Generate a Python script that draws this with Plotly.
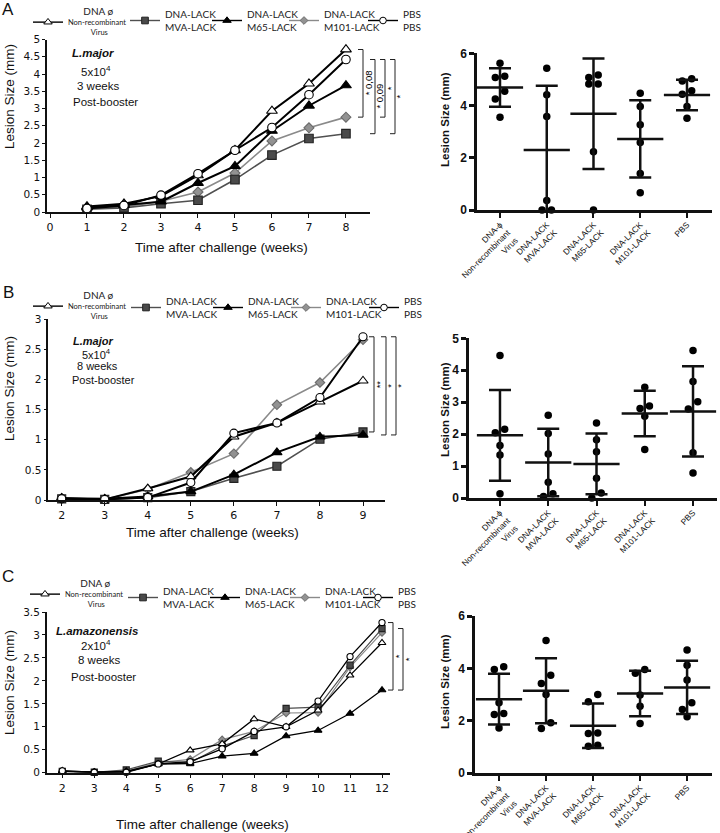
import numpy as np
import plotly.graph_objects as go

W, H = 720, 833

# ---------------- data ----------------
groups = ["dna", "mva", "m65", "m101", "pbs"]
legend_lines = {
    "dna": ["DNA ø", "Non-recombinant", "Virus"],
    "mva": ["DNA-LACK", "MVA-LACK"],
    "m65": ["DNA-LACK", "M65-LACK"],
    "m101": ["DNA-LACK", "M101-LACK"],
    "pbs": ["PBS", "PBS"],
}
cat_labels = ["DNA-ϕ<br>Non-recombinant<br>Virus", "DNA-LACK<br>MVA-LACK",
              "DNA-LACK<br>M65-LACK", "DNA-LACK<br>M101-LACK", "PBS"]
cat_index = [0, 1, 2, 3, 4]

# Panel A (L. major, 3 weeks post-booster)
weeks_A = [1, 2, 3, 4, 5, 6, 7, 8]
ticks_A = [0, 1, 2, 3, 4, 5, 6, 7, 8]
A_dna = [0.16, 0.24, 0.46, 1.06, 1.79, 2.93, 3.72, 4.71]
A_mva = [0.08, 0.12, 0.24, 0.34, 0.94, 1.65, 2.13, 2.27]
A_m65 = [0.13, 0.20, 0.30, 0.84, 1.33, 2.35, 3.08, 3.67]
A_m101 = [0.10, 0.15, 0.31, 0.58, 1.13, 2.06, 2.44, 2.75]
A_pbs = [0.10, 0.19, 0.49, 1.11, 1.79, 2.45, 3.40, 4.42]

A_pts_dna = [5.62, 5.07, 5.12, 4.55, 4.25, 3.55]
A_pts_mva = [5.43, 4.41, 3.58, 0.36, 0.0, 0.0]
A_pts_m65 = [5.07, 5.17, 4.82, 4.82, 2.23, 0.0]
A_pts_m101 = [4.47, 3.96, 3.26, 2.58, 1.40, 0.66]
A_pts_pbs = [5.03, 4.94, 4.57, 4.43, 3.96, 3.51]

# Panel B (L. major, 8 weeks post-booster)
weeks_B = [2, 3, 4, 5, 6, 7, 8, 9]
B_dna = [0.03, 0.01, 0.19, 0.39, 1.05, 1.28, 1.63, 1.98]
B_mva = [0.02, 0.01, 0.04, 0.14, 0.36, 0.56, 1.01, 1.13]
B_m65 = [0.03, 0.02, 0.06, 0.14, 0.42, 0.79, 1.05, 1.08]
B_m101 = [0.03, 0.01, 0.18, 0.46, 0.77, 1.58, 1.95, 2.66]
B_pbs = [0.02, 0.01, 0.04, 0.29, 1.11, 1.28, 1.70, 2.71]

B_pts_dna = [4.46, 2.04, 2.15, 1.64, 1.35, 0.13]
B_pts_mva = [2.59, 2.02, 1.38, 0.49, 0.05, 0.13]
B_pts_m65 = [2.35, 1.82, 1.45, 0.62, 0.0, 0.16]
B_pts_m101 = [3.47, 2.88, 2.80, 2.56, 1.52]
B_pts_pbs = [4.62, 3.65, 3.01, 2.79, 1.42, 0.78]

# Panel C (L. amazonensis, 8 weeks post-booster)
weeks_C = [2, 3, 4, 5, 6, 7, 8, 9, 10, 11, 12]
C_dna = [0.04, 0.01, 0.03, 0.19, 0.49, 0.63, 1.17, 1.00, 1.36, 2.12, 2.83]
C_mva = [0.03, 0.01, 0.06, 0.25, 0.22, 0.58, 0.81, 1.40, 1.43, 2.34, 3.14]
C_m65 = [0.03, 0.01, 0.02, 0.19, 0.20, 0.36, 0.42, 0.80, 0.92, 1.29, 1.80]
C_m101 = [0.03, 0.01, 0.04, 0.22, 0.29, 0.72, 0.90, 1.30, 1.31, 2.30, 3.05]
C_pbs = [0.04, 0.01, 0.01, 0.19, 0.24, 0.52, 0.90, 1.00, 1.56, 2.53, 3.27]

C_pts_dna = [4.06, 3.96, 2.68, 2.27, 2.24, 1.72]
C_pts_mva = [5.06, 3.74, 3.42, 3.00, 1.92, 1.70]
C_pts_m65 = [3.00, 2.72, 1.53, 1.51, 1.06, 1.02]
C_pts_m101 = [3.96, 3.81, 2.98, 2.55, 1.89]
C_pts_pbs = [4.70, 4.12, 3.55, 2.68, 2.43, 2.15]

# ---------------- helpers ----------------
def px(x):
    return x / W


def py(y):
    return 1 - y / H


style = {
    "dna": dict(line="#000000", symbol="triangle-up", fill="#ffffff", edge="#000000", sz=1.05),
    "mva": dict(line="#505050", symbol="square", fill="#4a4a4a", edge="#222222", sz=0.95),
    "m65": dict(line="#000000", symbol="triangle-up", fill="#000000", edge="#000000", sz=1.05),
    "m101": dict(line="#8a8a8a", symbol="diamond", fill="#929292", edge="#6a6a6a", sz=0.85),
    "pbs": dict(line="#000000", symbol="circle", fill="#ffffff", edge="#000000", sz=0.95),
}


def swarm_offsets(vals, px_per_y, px_per_cat, h=9.0, half=4.7):
    order = sorted(range(len(vals)), key=lambda i: -vals[i])
    offs = [0.0] * len(vals)
    i = 0
    while i < len(order):
        a = order[i]
        if i + 1 < len(order):
            b = order[i + 1]
            if (vals[a] - vals[b]) * px_per_y < h:
                offs[b] = -half / px_per_cat
                offs[a] = half / px_per_cat
                i += 2
                continue
        i += 1
    return offs


panels = [
    dict(
        key="A", weeks=weeks_A, ticks=ticks_A,
        series=dict(dna=A_dna, mva=A_mva, m65=A_m65, m101=A_m101, pbs=A_pbs),
        pts=dict(dna=A_pts_dna, mva=A_pts_mva, m65=A_pts_m65, m101=A_pts_m101, pbs=A_pts_pbs),
        lx=(47, 370), ly=(39.5, 212), lxr=(-0.081, 8.65), lyr=(0, 5),
        rx=(477, 712), ry=(53.3, 210), rxr=(-0.492, 4.535), ryr=(0, 6), rdt=2,
        msize=9, lw=2.0, glw=1.6,
        leg_top=[1, 1, 1, 1, 1], leg_x=[50, 147, 229, 306, 385],
        brackets=[("dna", "m101", "* 0,08", 363), ("pbs", "mva", "* 0,09", 375),
                  ("pbs", "m101", "*", 385), ("pbs", "mva", "*", 395)],
        notes=[("<b><i>L.major</i></b>", 93, 53), ("5x10<sup>4</sup>", 96, 71),
               ("3 weeks", 98, 86), ("Post-booster", 105, 102)],
        nsize=11.5,
        letter=("A", 8, 9), xtitle=(221, 248), ytitle=(9, 97), rytitle=(445, 120),
    ),
    dict(
        key="B", weeks=weeks_B, ticks=weeks_B,
        series=dict(dna=B_dna, mva=B_mva, m65=B_m65, m101=B_m101, pbs=B_pbs),
        pts=dict(dna=B_pts_dna, mva=B_pts_mva, m65=B_pts_m65, m101=B_pts_m101, pbs=B_pts_pbs),
        lx=(48.3, 385), ly=(319.3, 500), lxr=(1.689, 9.511), lyr=(0, 3),
        rx=(469, 717), ry=(338.3, 498), rxr=(-0.642, 4.497), ryr=(0, 5), rdt=1,
        msize=8.5, lw=2.0, glw=1.6,
        leg_top=[285, 288, 288, 288, 288], leg_x=[50, 148, 230, 308, 386],
        brackets=[("pbs", "mva", "**", 374), ("pbs", "m65", "*", 386),
                  ("pbs", "m65", "*", 396)],
        notes=[("<b><i>L.major</i></b>", 93, 341), ("5x10<sup>4</sup>", 96, 354),
               ("8 weeks", 97, 366), ("Post-booster", 104, 380)],
        nsize=11,
        letter=("B", 8, 292), xtitle=(212, 532), ytitle=(9, 389), rytitle=(445, 410),
    ),
    dict(
        key="C", weeks=weeks_C, ticks=weeks_C,
        series=dict(dna=C_dna, mva=C_mva, m65=C_m65, m101=C_m101, pbs=C_pbs),
        pts=dict(dna=C_pts_dna, mva=C_pts_mva, m65=C_pts_m65, m101=C_pts_m101, pbs=C_pts_pbs),
        lx=(46.7, 390), ly=(612, 772.7), lxr=(1.512, 12.25), lyr=(0, 3.5),
        rx=(475, 712), ry=(616, 773), rxr=(-0.511, 4.53), ryr=(0, 6), rdt=2,
        msize=6.5, lw=1.3, glw=1.2,
        leg_top=[573, 578, 578, 578, 578], leg_x=[47, 145, 227, 307, 380],
        brackets=[("pbs", "m65", "*", 393), ("mva", "m65", "*", 403)],
        notes=[("<b><i>L.amazonensis</i></b>", 97, 631), ("2x10<sup>4</sup>", 96, 645),
               ("8 weeks", 99, 660), ("Post-booster", 104, 677)],
        nsize=11.5,
        letter=("C", 8, 576), xtitle=(202, 824), ytitle=(9, 683), rytitle=(445, 682),
    ),
]

NB = "\u00a0"


def legend_html(g):
    lines = legend_lines[g]
    if g == "dna":
        return (f"<span style='font-size:10px'>{NB*6}{lines[0]}</span><br>"
                f"{lines[1]}<br>{NB*12}{lines[2]}")
    return "<br>".join(lines)


fig = go.Figure()
layout = dict(
    template="none",
    width=W, height=H, margin=dict(l=0, r=0, t=0, b=0, autoexpand=False),
    paper_bgcolor="white", plot_bgcolor="white",
    font=dict(family="Liberation Sans", color="#111"),
    showlegend=True,
)
annotations = []
shapes = []

draw_order = ["m101", "mva", "dna", "m65", "pbs"]

for p_i, P in enumerate(panels):
    ln = 2 * p_i + 1
    rn = 2 * p_i + 2
    lxa = "x" if ln == 1 else f"x{ln}"
    lya = "y" if ln == 1 else f"y{ln}"
    rxa = f"x{rn}"
    rya = f"y{rn}"
    lxkey = "xaxis" if ln == 1 else f"xaxis{ln}"
    lykey = "yaxis" if ln == 1 else f"yaxis{ln}"

    # ---- left line chart ----
    for g in draw_order:
        s = style[g]
        lwid = P["lw"] if s["line"] == "#000000" else P["glw"]
        fig.add_trace(go.Scatter(
            x=P["weeks"], y=P["series"][g], mode="lines+markers",
            xaxis=lxa, yaxis=lya, name=legend_lines[g][-1], showlegend=False,
            line=dict(color=s["line"], width=lwid),
            marker=dict(symbol=s["symbol"], size=P["msize"] * s["sz"], color=s["fill"],
                        line=dict(color=s["edge"], width=1.1)),
            cliponaxis=False,
        ))
    # legend-only entries (one legend box per entry)
    for idx, g in enumerate(groups):
        s = style[g]
        leg_name = "legend" if (p_i == 0 and idx == 0) else f"legend{p_i*5 + idx + 1}"
        fig.add_trace(go.Scatter(
            x=[None], y=[None], mode="lines+markers", xaxis=lxa, yaxis=lya,
            name=legend_html(g), legend=leg_name, showlegend=True,
            line=dict(color=s["line"], width=1.4),
            marker=dict(symbol=s["symbol"], size=7 * s["sz"], color=s["fill"],
                        line=dict(color=s["edge"], width=1)),
        ))
        layout[leg_name] = dict(
            x=px(P["leg_x"][idx] - 22), xanchor="left", y=py(P["leg_top"][idx]), yanchor="top",
            bgcolor="rgba(0,0,0,0)", borderwidth=0, valign="middle",
            itemwidth=30, tracegroupgap=0, itemsizing="trace",
            font=dict(family="Lato", size=7.5 if g == "dna" else 10, color="#222"),
        )

    layout[lxkey] = dict(
        domain=[px(P["lx"][0]), px(P["lx"][1])], range=list(P["lxr"]), anchor=lya,
        showline=True, linecolor="#111", linewidth=1.5, ticks="outside", ticklen=4,
        tickwidth=1, tickcolor="#111", tickvals=P["ticks"], showgrid=False, zeroline=False,
        automargin=False, tickfont=dict(family="DejaVu Sans", size=11, color="#111"),
    )
    layout[lykey] = dict(
        domain=[py(P["ly"][1]), py(P["ly"][0])], range=list(P["lyr"]), anchor=lxa,
        showline=True, linecolor="#111", linewidth=1.5, ticks="outside", ticklen=3,
        tickwidth=1, tickcolor="#111", dtick=0.5, showgrid=False, zeroline=False,
        automargin=False, tickfont=dict(family="DejaVu Sans", size=10.5, color="#111"),
    )

    # significance brackets (end points taken from the last week's values)
    ends = {g: P["series"][g][-1] for g in groups}
    for top_g, bot_g, lab, xb in P["brackets"]:
        yt, yb = ends[top_g], ends[bot_g]
        x1 = px(xb)
        x0 = px(xb - 5)
        shapes.append(dict(type="path", xref="paper", yref=lya,
                           path=f"M {x0},{yt} L {x1},{yt} L {x1},{yb} L {x0},{yb}",
                           line=dict(color="#222", width=1)))
        annotations.append(dict(text=lab, xref="paper", yref=lya, x=px(xb + 5),
                                y=(yt + yb) / 2, showarrow=False, textangle=-90,
                                font=dict(family="Liberation Sans", size=9.5, color="#000"),
                                xanchor="center", yanchor="middle"))

    # notes
    for txt, xx, yy in P["notes"]:
        annotations.append(dict(text=txt, xref="paper", yref="paper", x=px(xx), y=py(yy),
                                showarrow=False, xanchor="center", yanchor="middle",
                                font=dict(family="Liberation Sans", size=P["nsize"], color="#111")))
    lt, lxp, lyp = P["letter"]
    annotations.append(dict(text=lt, xref="paper", yref="paper", x=px(lxp), y=py(lyp),
                            showarrow=False, xanchor="center", yanchor="middle",
                            font=dict(family="Liberation Sans", size=17, color="#111")))
    annotations.append(dict(text="Time after challenge (weeks)", xref="paper", yref="paper",
                            x=px(P["xtitle"][0]), y=py(P["xtitle"][1]), showarrow=False,
                            xanchor="center", yanchor="middle",
                            font=dict(family="Liberation Sans", size=13.5, color="#111")))
    annotations.append(dict(text="Lesion Size (mm)", xref="paper", yref="paper",
                            x=px(P["ytitle"][0]), y=py(P["ytitle"][1]), showarrow=False,
                            textangle=-90, xanchor="center", yanchor="middle",
                            font=dict(family="Liberation Sans", size=13.5, color="#111")))
    annotations.append(dict(text="<b>Lesion Size (mm)</b>", xref="paper", yref="paper",
                            x=px(P["rytitle"][0]), y=py(P["rytitle"][1]), showarrow=False,
                            textangle=-90, xanchor="center", yanchor="middle",
                            font=dict(family="Liberation Sans", size=11.5, color="#111")))

    # ---- right scatter dot plot (mean ± SD) ----
    ppy = (P["ry"][1] - P["ry"][0]) / (P["ryr"][1] - P["ryr"][0])
    ppc = (P["rx"][1] - P["rx"][0]) / (P["rxr"][1] - P["rxr"][0])
    means, sds = [], []
    for ci, g in enumerate(groups):
        vals = P["pts"][g]
        offs = swarm_offsets(vals, ppy, ppc)
        fig.add_trace(go.Scatter(
            x=[cat_index[ci] + o for o in offs], y=vals, mode="markers",
            xaxis=rxa, yaxis=rya, showlegend=False, cliponaxis=False,
            marker=dict(size=7.5, color="#000"),
        ))
        means.append(float(np.mean(vals)))
        sds.append(float(np.std(vals, ddof=1)))
    fig.add_trace(go.Scatter(
        x=cat_index, y=means, mode="markers", xaxis=rxa, yaxis=rya, showlegend=False,
        marker=dict(symbol="line-ew", size=33, line=dict(color="#111", width=2.5)),
        error_y=dict(type="data", array=sds, visible=True, color="#111", thickness=2.5, width=11),
    ))
    layout[f"xaxis{rn}"] = dict(
        domain=[px(P["rx"][0]), px(P["rx"][1])], range=list(P["rxr"]), anchor=rya,
        showline=True, linecolor="#111", linewidth=2.5, ticks="outside", ticklen=5,
        tickwidth=2, tickcolor="#111", tickvals=cat_index, ticktext=cat_labels,
        tickangle=-45, showgrid=False, zeroline=False, automargin=False,
        ticklabelstandoff=-1,
        tickfont=dict(family="Liberation Sans", size=8.4, color="#111"),
    )
    layout[f"yaxis{rn}"] = dict(
        domain=[py(P["ry"][1]), py(P["ry"][0])], range=list(P["ryr"]), anchor=rxa,
        showline=True, linecolor="#111", linewidth=2.5, ticks="outside", ticklen=5,
        tickwidth=2.5, tickcolor="#111", dtick=P["rdt"], showgrid=False, zeroline=False,
        automargin=False,
        tickfont=dict(family="Liberation Sans", size=12, color="#111", weight="bold"),
    )

layout["annotations"] = annotations
layout["shapes"] = shapes
fig.update_layout(**layout)
fig.write_html(
    "out.html",
    config={"displayModeBar": False},
    post_script="document.body.style.margin='0px';document.body.style.padding='0px';"
                "document.documentElement.style.overflow='hidden';",
)
